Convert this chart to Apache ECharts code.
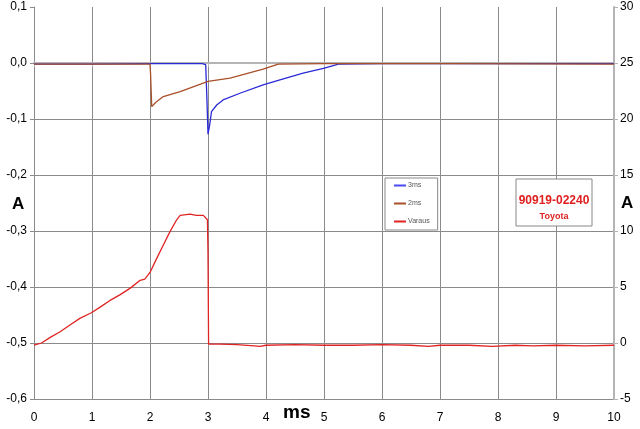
<!DOCTYPE html>
<html>
<head>
<meta charset="utf-8">
<script src="https://cdn.jsdelivr.net/npm/echarts@6/dist/echarts.min.js"></script>
<style>html,body{margin:0;padding:0;background:#fff}#c{width:640px;height:429px}</style>
</head>
<body>
<div id="c"></div>
<script>
var xTicks = [0,1,2,3,4,5,6,7,8,9,10];
var seriesNames = ['3ms','2ms','Varaus'];
var blue3ms = [[0,-0.002],[1,-0.002],[2,-0.001],[2.9,-0.001],[2.96,-0.003],[2.98,-0.06],[3.0,-0.127],[3.03,-0.11],[3.06,-0.087],[3.15,-0.075],[3.26,-0.066],[3.55,-0.054],[3.95,-0.039],[4.24,-0.030],[4.64,-0.018],[4.99,-0.0095],[5.25,-0.002],[6,-0.001],[8,-0.001],[10,-0.001]];
var brown2ms = [[0,-0.002],[1,-0.002],[2,-0.002],[2.01,-0.02],[2.03,-0.078],[2.1,-0.07],[2.23,-0.060],[2.52,-0.051],[3.0,-0.033],[3.38,-0.027],[3.95,-0.011],[4.21,-0.002],[5,-0.001],[7,-0.001],[10,-0.002]];
var varaus = [[0,-0.2],[0.13,0],[0.28,0.5],[0.45,1.0],[0.62,1.6],[0.79,2.2],[0.99,2.7],[1.14,3.2],[1.31,3.8],[1.48,4.3],[1.66,4.9],[1.83,5.6],[1.91,5.7],[2.0,6.3],[2.12,7.6],[2.23,8.75],[2.34,9.9],[2.46,11.0],[2.52,11.4],[2.69,11.5],[2.8,11.4],[2.92,11.4],[2.99,11.0],[3.0,8],[3.01,-0.1],[3.02,-0.15],[3.2,-0.1],[3.5,-0.15],[3.8,-0.25],[3.9,-0.3],[4.0,-0.2],[4.5,-0.15],[5,-0.2],[5.5,-0.2],[6,-0.15],[6.5,-0.2],[6.8,-0.3],[7,-0.2],[7.5,-0.2],[7.9,-0.3],[8.3,-0.2],[8.6,-0.25],[9,-0.2],[9.5,-0.25],[10,-0.2]];
var leftAxis = {min:-0.6, max:0.1, step:0.1};
var rightAxis = {min:-5, max:30, step:5};

var FONT = '"Liberation Sans", Arial, sans-serif';
var chart = echarts.init(document.getElementById('c'));
function fmtLeft(v){ if (Math.abs(v) < 1e-9) return '0,0'; return v.toFixed(1).replace('.', ','); }
var option = {
  animation: false,
  backgroundColor: '#ffffff',
  grid: {left: 34, right: 26, top: 7, bottom: 30},
  xAxis: {
    type: 'value', min: xTicks[0], max: xTicks[xTicks.length-1], interval: 1,
    axisLine: {show: true, lineStyle: {color: '#b4b4b4', width: 2}},
    axisTick: {show: true, length: 4, lineStyle: {color: '#b4b4b4'}},
    axisLabel: {color: '#000', fontSize: 12, fontFamily: FONT, margin: 13},
    splitLine: {show: true, lineStyle: {color: '#8a8a8a', width: 1}}
  },
  yAxis: [{
    type: 'value', min: leftAxis.min, max: leftAxis.max, interval: leftAxis.step,
    axisLine: {show: true, lineStyle: {color: '#8a8a8a'}},
    axisTick: {show: true, length: 4, lineStyle: {color: '#8a8a8a'}},
    axisLabel: {color: '#000', fontSize: 12, fontFamily: FONT, margin: 7, formatter: fmtLeft},
    splitLine: {show: true, showMaxLine: false, lineStyle: {color: '#8a8a8a', width: 1}}
  },{
    type: 'value', position: 'right', min: rightAxis.min, max: rightAxis.max, interval: rightAxis.step,
    axisLine: {show: true, lineStyle: {color: '#b4b4b4', width: 2}},
    axisTick: {show: true, length: 4, lineStyle: {color: '#b4b4b4'}},
    axisLabel: {color: '#000', fontSize: 12, fontFamily: FONT, margin: 6},
    splitLine: {show: false}
  }],
  legend: {
    show: true, orient: 'vertical', left: 385, top: 178,
    data: seriesNames,
    icon: 'rect', itemWidth: 12, itemHeight: 2, itemGap: 11,
    padding: [4, 8, 5, 9],
    backgroundColor: '#fff', borderColor: '#888', borderWidth: 1,
    textStyle: {fontSize: 7, color: '#555', fontFamily: FONT, padding: [0,0,0,-3]}
  },
  series: [
    {name: seriesNames[0], type: 'line', yAxisIndex: 0, data: blue3ms, symbol: 'none', lineStyle: {color: '#2a2ad6', width: 1.3}, itemStyle: {color: '#4a4af0'}, z: 3},
    {name: seriesNames[1], type: 'line', yAxisIndex: 0, data: brown2ms, symbol: 'none', lineStyle: {color: '#a8502a', width: 1.3}, itemStyle: {color: '#a8502a'}, z: 4},
    {name: seriesNames[2], type: 'line', yAxisIndex: 1, data: varaus, symbol: 'none', lineStyle: {color: '#e02424', width: 1.3}, itemStyle: {color: '#e02424'}, z: 5}
  ],
  graphic: [
    {type: 'text', left: 12, top: 196, style: {text: 'A', font: 'bold 17px ' + FONT, fill: '#000'}},
    {type: 'text', left: 621, top: 195, style: {text: 'A', font: 'bold 17px ' + FONT, fill: '#000'}},
    {type: 'text', left: 283, top: 403, style: {text: 'ms', font: 'bold 19px ' + FONT, fill: '#000'}},
    {type: 'rect', shape: {x: 516, y: 179, width: 76, height: 47}, style: {fill: '#fff', stroke: '#888', lineWidth: 1}, z: 10},
    {type: 'text', x: 554, y: 201, z: 11, style: {text: '90919-02240', font: 'bold 12px ' + FONT, fill: '#e02020', align: 'center', verticalAlign: 'middle'}},
    {type: 'text', x: 554, y: 217, z: 11, style: {text: 'Toyota', font: 'bold 9px ' + FONT, fill: '#e02020', align: 'center', verticalAlign: 'middle'}}
  ]
};
chart.setOption(option);
</script>
</body>
</html>
